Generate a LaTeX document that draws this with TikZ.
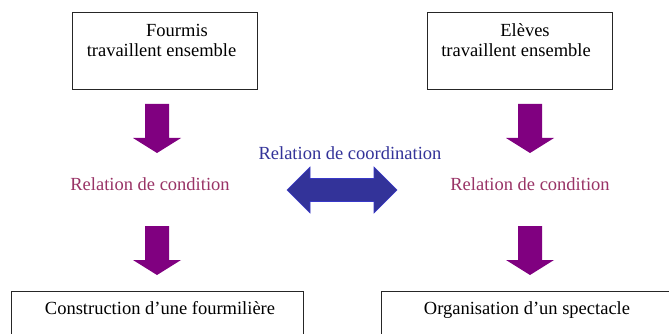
\documentclass[tikz,border=0pt]{standalone}
\usepackage{fontspec}
\setmainfont{Liberation Serif}
\definecolor{arrpurple}{HTML}{800080}
\definecolor{condcol}{HTML}{993366}
\definecolor{coordcol}{HTML}{333399}
\definecolor{dblfill}{HTML}{333399}
\definecolor{dbledge}{HTML}{3838C8}
\begin{document}
\begin{tikzpicture}[x=1pt,y=-1pt,
  box/.style={draw=black!85, line width=0.8pt, inner sep=0pt},
  txt/.style={font=\fontsize{18.5}{20}\selectfont, anchor=base, inner sep=0pt},
  condtxt/.style={txt, text=condcol},
  coordtxt/.style={txt, text=coordcol},
  downarr/.pic={\fill[arrpurple] (-12,0) -- (12,0) -- (12,34) -- (24,34) -- (0,49) -- (-24,34) -- (-12,34) -- cycle;},
  dblarr/.pic={\filldraw[fill=dblfill, draw=dbledge, line width=0.6pt, line join=miter]
     (-55,0) -- (-32,-23) -- (-32,-11.5) -- (32,-11.5) -- (32,-23) -- (55,0) -- (32,23) -- (32,11.5) -- (-32,11.5) -- (-32,23) -- cycle;}
]
\clip (0,0) rectangle (669,334);
\fill[white] (0,0) rectangle (669,334);

% top boxes
\node[box, minimum width=185pt, minimum height=77pt] (b1) at (164.5,50.5) {};
\node[box, minimum width=185pt, minimum height=77pt] (b2) at (519.5,50.5) {};
\node[txt] (t1a) at (177,37) {Fourmis};
\node[txt] (t1b) at (161.5,57) {travaillent ensemble};
\node[txt] (t2a) at (525,37) {Elèves};
\node[txt] (t2b) at (516,57) {travaillent ensemble};

% relation labels
\node[condtxt] (c1) at (150,190) {Relation de condition};
\node[condtxt] (c2) at (530,190) {Relation de condition};
\node[coordtxt] (co) at (350,159) {Relation de coordination};

% bottom boxes (cut by the picture edge)
\node[box, minimum width=292pt, minimum height=60pt] (b3) at (157,321) {};
\node[box, minimum width=300pt, minimum height=60pt] (b4) at (531,321) {};
\node[txt] (t3) at (160,314) {Construction d’une fourmilière};
\node[txt] (t4) at (527,314) {Organisation d’un spectacle};

% arrows
\coordinate (a1) at (157,104);
\coordinate (a2) at (157,226);
\coordinate (a3) at (530,104);
\coordinate (a4) at (530,226);
\coordinate (d1) at (342,190);
\pic at (a1) {downarr};
\pic at (a2) {downarr};
\pic at (a3) {downarr};
\pic at (a4) {downarr};
\pic at (d1) {dblarr};
\end{tikzpicture}
\end{document}
